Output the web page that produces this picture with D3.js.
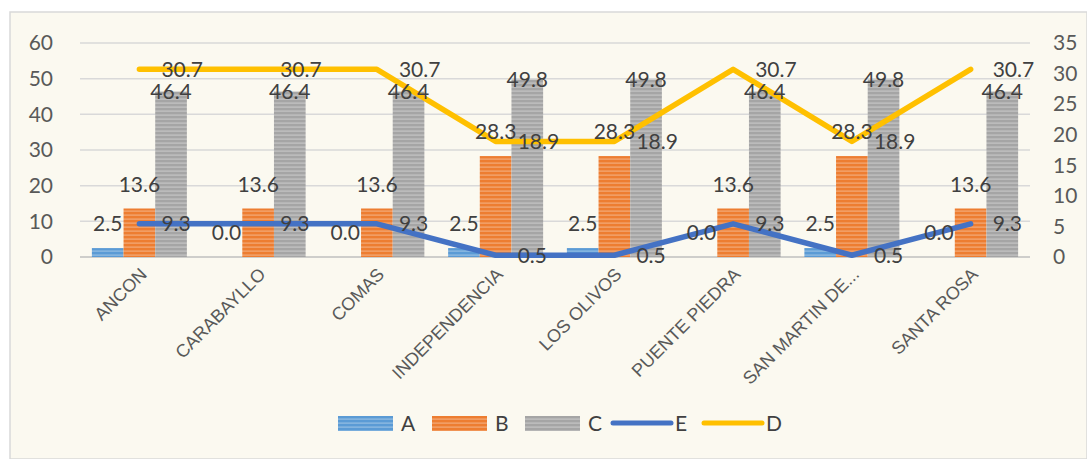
<!DOCTYPE html>
<html lang="es">
<head>
<meta charset="utf-8">
<script src="https://cdn.jsdelivr.net/npm/d3@7"></script>
<style>
  body { margin: 0; background: #ffffff; }
  svg { display: block; }
</style>
</head>
<body>
<script>
  // categorias y series
  let districts = ["ANCON", "CARABAYLLO", "COMAS", "INDEPENDENCIA", "LOS OLIVOS", "PUENTE PIEDRA", "SAN MARTIN DE...", "SANTA ROSA"];
  let serieA = [2.5, 0.0, 0.0, 2.5, 2.5, 0.0, 2.5, 0.0];
  let serieB = [13.6, 13.6, 13.6, 28.3, 28.3, 13.6, 28.3, 13.6];
  let serieC = [46.4, 46.4, 46.4, 49.8, 49.8, 46.4, 49.8, 46.4];
  let serieE = [9.3, 9.3, 9.3, 0.5, 0.5, 9.3, 0.5, 9.3];   // eje izquierdo
  let serieD = [30.7, 30.7, 30.7, 18.9, 18.9, 30.7, 18.9, 30.7]; // eje derecho
  let leftTicks = [0, 10, 20, 30, 40, 50, 60];
  let rightTicks = [0, 5, 10, 15, 20, 25, 30, 35];

  let w = 1087, h = 459;
  let numFont = "Lato, 'Open Sans', sans-serif";

  let svg = d3.select("body").append("svg")
    .attr("width", w)
    .attr("height", h);

  // patrones de rayas horizontales
  let defs = svg.append("defs");
  let makeStripes = function (id, base) {
    let p = defs.append("pattern")
      .attr("id", id)
      .attr("patternUnits", "userSpaceOnUse")
      .attr("width", 6).attr("height", 4);
    p.append("rect").attr("width", 6).attr("height", 4).attr("fill", base);
    p.append("rect").attr("y", 2.5).attr("width", 6).attr("height", 1.2)
      .attr("fill", "#ffffff").attr("opacity", 0.35);
  };
  makeStripes("stA", "#5b9bd5");
  makeStripes("stB", "#ed7d31");
  makeStripes("stC", "#a5a5a5");

  // fondo
  svg.append("rect")
    .attr("x", 10).attr("y", 12)
    .attr("width", w - 10).attr("height", h - 12)
    .attr("fill", "#fbf9f0")
    .attr("stroke", "#d9d9d9")
    .attr("stroke-width", 1.5);

  let x = d3.scaleBand()
    .domain(districts)
    .range([80, 1030])
    .paddingInner(0.2)
    .paddingOuter(0.1);

  let xs = d3.scaleBand()
    .domain(["A", "B", "C"])
    .range([0, x.bandwidth()]);

  let yL = d3.scaleLinear().domain([0, 60]).range([257, 43]);
  let yR = d3.scaleLinear().domain([0, 35]).range([257, 43]);

  // rejilla
  svg.append("g").selectAll("line")
    .data(leftTicks)
    .join("line")
    .attr("x1", 80).attr("x2", 1030)
    .attr("y1", d => yL(d)).attr("y2", d => yL(d))
    .attr("stroke", d => d == 0 ? "#bfbfbf" : "#d9d9d9")
    .attr("stroke-width", 1.5);

  // ejes
  svg.append("g")
    .attr("transform", "translate(60,0)")
    .call(d3.axisLeft(yL).tickValues(leftTicks).tickSize(0).tickPadding(7));
  svg.append("g")
    .attr("transform", "translate(1046,0)")
    .call(d3.axisRight(yR).tickValues(rightTicks).tickSize(0).tickPadding(7));
  svg.selectAll(".domain").remove();
  svg.selectAll(".tick text")
    .attr("font-family", numFont)
    .attr("font-size", 21)
    .attr("fill", "#595959");

  let axisX = svg.append("g")
    .attr("transform", "translate(0,257)")
    .call(d3.axisBottom(x).tickSize(0).tickPadding(0));
  axisX.select(".domain").remove();
  axisX.selectAll(".tick text")
    .attr("font-family", "'Liberation Sans', Arial, sans-serif")
    .attr("font-size", 18)
    .attr("fill", "#595959")
    .attr("text-anchor", "end")
    .attr("dy", "0.35em")
    .attr("transform", "translate(4,14) rotate(-45)");

  // barras
  let series = [
    { key: "A", values: serieA, fill: "url(#stA)" },
    { key: "B", values: serieB, fill: "url(#stB)" },
    { key: "C", values: serieC, fill: "url(#stC)" }
  ];

  series.forEach(function (s) {
    svg.append("g").selectAll("rect")
      .data(s.values)
      .join("rect")
      .attr("x", (d, i) => x(districts[i]) + xs(s.key))
      .attr("y", d => yL(d))
      .attr("width", xs.bandwidth())
      .attr("height", d => yL(0) - yL(d))
      .attr("fill", s.fill);
  });

  // lineas
  let cx = function (i) { return x(districts[i]) + x.bandwidth() / 2; };

  let lineE = d3.line().x((d, i) => cx(i)).y(d => yL(d));
  let lineD = d3.line().x((d, i) => cx(i)).y(d => yR(d));

  svg.append("path")
    .datum(serieE)
    .attr("d", lineE)
    .attr("fill", "none")
    .attr("stroke", "#4472c4")
    .attr("stroke-width", 5.5)
    .attr("stroke-linejoin", "round")
    .attr("stroke-linecap", "round");

  svg.append("path")
    .datum(serieD)
    .attr("d", lineD)
    .attr("fill", "none")
    .attr("stroke", "#ffc000")
    .attr("stroke-width", 5.5)
    .attr("stroke-linejoin", "round")
    .attr("stroke-linecap", "round");

  // etiquetas de datos
  let labels = svg.append("g")
    .attr("font-family", numFont)
    .attr("font-size", 21)
    .attr("fill", "#404040");

  series.forEach(function (s) {
    labels.append("g").selectAll("text")
      .data(s.values)
      .join("text")
      .attr("x", (d, i) => x(districts[i]) + xs(s.key) + xs.bandwidth() / 2)
      .attr("y", d => s.key == "C" ? yL(d) : yL(d) - 24)
      .attr("dy", "0.35em")
      .attr("text-anchor", "middle")
      .text(d => d.toFixed(1));
  });

  labels.append("g").selectAll("text")
    .data(serieE)
    .join("text")
    .attr("x", (d, i) => cx(i) + 22)
    .attr("y", d => yL(d))
    .attr("dy", "0.35em")
    .text(d => d.toFixed(1));

  labels.append("g").selectAll("text")
    .data(serieD)
    .join("text")
    .attr("x", (d, i) => cx(i) + 22)
    .attr("y", d => yR(d))
    .attr("dy", "0.35em")
    .text(d => d.toFixed(1));

  // leyenda
  let legendItems = [
    { key: "A", type: "bar", fill: "url(#stA)", x: 338 },
    { key: "B", type: "bar", fill: "url(#stB)", x: 432 },
    { key: "C", type: "bar", fill: "url(#stC)", x: 525 },
    { key: "E", type: "line", color: "#4472c4", x: 613 },
    { key: "D", type: "line", color: "#ffc000", x: 704 }
  ];

  let legend = svg.append("g");
  legendItems.forEach(function (it) {
    if (it.type == "bar") {
      legend.append("rect")
        .attr("x", it.x).attr("y", 416)
        .attr("width", 55).attr("height", 15)
        .attr("fill", it.fill);
      legend.append("text")
        .attr("x", it.x + 63).attr("y", 424)
        .attr("dy", "0.35em")
        .attr("font-family", numFont).attr("font-size", 21)
        .attr("fill", "#404040")
        .text(it.key);
    } else {
      legend.append("line")
        .attr("x1", it.x).attr("x2", it.x + 58)
        .attr("y1", 423).attr("y2", 423)
        .attr("stroke", it.color)
        .attr("stroke-width", 5)
        .attr("stroke-linecap", "round");
      legend.append("text")
        .attr("x", it.x + 62).attr("y", 424)
        .attr("dy", "0.35em")
        .attr("font-family", numFont).attr("font-size", 21)
        .attr("fill", "#404040")
        .text(it.key);
    }
  });
</script>
</body>
</html>
